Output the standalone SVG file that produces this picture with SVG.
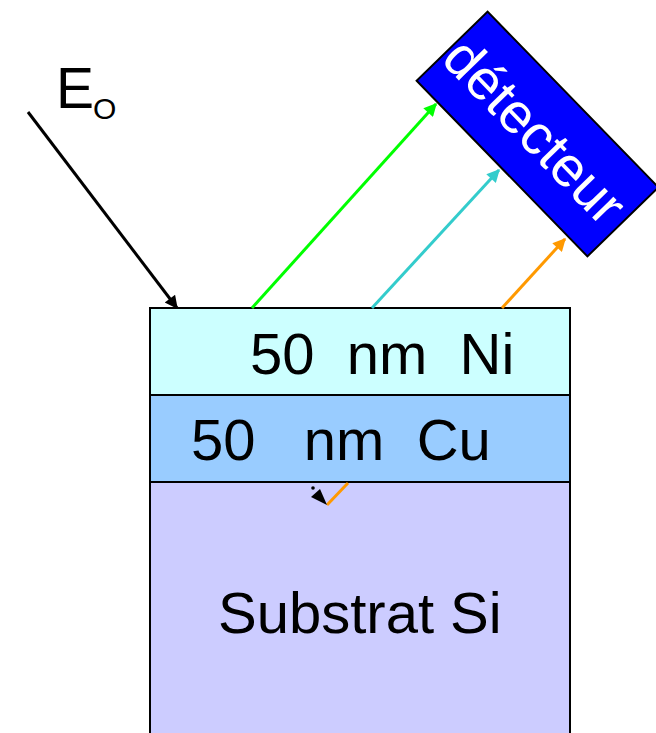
<svg xmlns="http://www.w3.org/2000/svg" width="656" height="733" viewBox="0 0 656 733">
<style>
.t{font-family:"Liberation Sans",Arial,sans-serif;fill:#000;white-space:pre}
.layer{stroke:#000;stroke-width:2}
.ray{fill:none;stroke-width:3}
</style>
<defs>
<marker id="ab" viewBox="0 0 10 10" refX="9" refY="5" markerWidth="16" markerHeight="13" markerUnits="userSpaceOnUse" orient="auto"><path d="M0,0 L10,5 L0,10 z" fill="#000"/></marker>
<marker id="ag" viewBox="0 0 10 10" refX="9" refY="5" markerWidth="16" markerHeight="13" markerUnits="userSpaceOnUse" orient="auto"><path d="M0,0 L10,5 L0,10 z" fill="#00FF00"/></marker>
<marker id="ac" viewBox="0 0 10 10" refX="9" refY="5" markerWidth="16" markerHeight="13" markerUnits="userSpaceOnUse" orient="auto"><path d="M0,0 L10,5 L0,10 z" fill="#33CCCC"/></marker>
<marker id="ao" viewBox="0 0 10 10" refX="9" refY="5" markerWidth="16" markerHeight="13" markerUnits="userSpaceOnUse" orient="auto"><path d="M0,0 L10,5 L0,10 z" fill="#FF9900"/></marker>
</defs>
<rect width="656" height="733" fill="#fff"/>
<g id="substrat">
<rect class="layer" x="150" y="482" width="420" height="260" fill="#CCCCFF"/>
<text class="t" x="218" y="633" font-size="58">Substrat Si</text>
</g>
<g id="cu">
<rect class="layer" x="150" y="395" width="420" height="87" fill="#99CCFF"/>
<text class="t" x="191" y="460" font-size="58">50   nm  Cu</text>
</g>
<g id="ni">
<rect class="layer" x="150" y="308" width="420" height="87" fill="#CCFFFF"/>
<text class="t" x="250" y="374" font-size="58">50  nm  Ni</text>
</g>
<g id="detecteur" transform="translate(537.5 134) rotate(45.8)">
<rect x="-122.5" y="-49.5" width="245" height="99" fill="#0000FF" stroke="#000" stroke-width="2"/>
<text class="t" x="-4" y="19" font-size="56" text-anchor="middle" style="fill:#fff">détecteur</text>
</g>
<g id="eo">
<text class="t" x="56" y="108" font-size="57">E</text>
<text class="t" x="93" y="119" font-size="30">O</text>
</g>
<g id="connectors">
<line class="ray" x1="28" y1="112" x2="177" y2="308" stroke="#000" marker-end="url(#ab)"/>
<line class="ray" x1="252" y1="308" x2="436" y2="104" stroke="#00FF00" marker-end="url(#ag)"/>
<line class="ray" x1="372" y1="308" x2="499" y2="170" stroke="#33CCCC" marker-end="url(#ac)"/>
<line class="ray" x1="502" y1="308" x2="565" y2="239" stroke="#FF9900" marker-end="url(#ao)"/>
<line class="ray" x1="348" y1="483" x2="327" y2="505" stroke="#FF9900"/>
<circle cx="313" cy="488" r="1.8" fill="#000"/>
<path d="M327,505 L311,497 L320,489 z" fill="#000"/>
</g>
</svg>
